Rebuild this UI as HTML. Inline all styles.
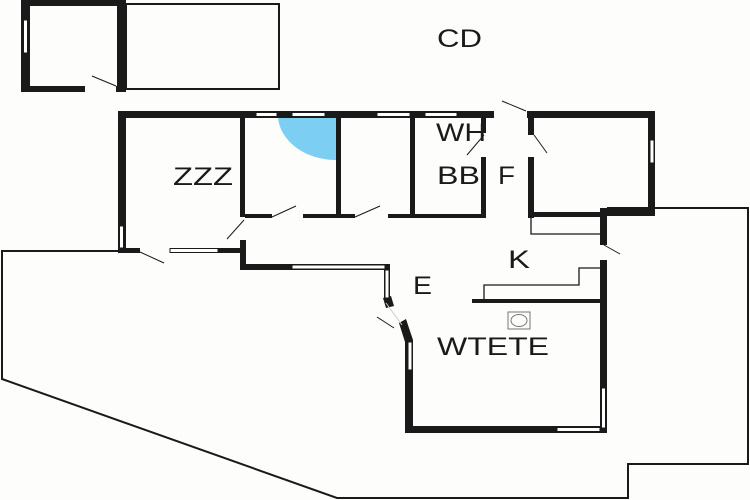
<!DOCTYPE html>
<html><head><style>html,body{margin:0;padding:0;background:#fdfdfc;}svg{display:block}</style></head>
<body>
<svg width="750" height="500" viewBox="0 0 750 500" xmlns="http://www.w3.org/2000/svg">
<rect width="750" height="500" fill="#fdfdfc"/>
<g fill="none" stroke="#1a1a1a" stroke-width="2">
<polyline points="118,251 2,251 2,379 337,498 628,498 628,464 748,464 748,208 607,208"/>
<rect x="126" y="4" width="153" height="85"/>
<polyline points="484,300 484,285 579,285 579,268 600,268" stroke-width="1.3"/>
<polyline points="531,217 531,234 600,234" stroke-width="1.3"/>
</g>
<g fill="#1a1a1a">
<rect x="21" y="0" width="105" height="6"/>
<rect x="21" y="0" width="9" height="92"/>
<rect x="117" y="0" width="9" height="92"/>
<rect x="21" y="86" width="64" height="6"/>
<rect x="116" y="86" width="10" height="6"/>
<rect x="118" y="111" width="376" height="7"/>
<rect x="527" y="111" width="128" height="7"/>
<rect x="118" y="111" width="8" height="142"/>
<rect x="240" y="118" width="5" height="99"/>
<rect x="336" y="118" width="5" height="99"/>
<rect x="410" y="118" width="5" height="99"/>
<rect x="481" y="111" width="5" height="22"/>
<rect x="481" y="157" width="5" height="61"/>
<rect x="245" y="214" width="27" height="4"/>
<rect x="303" y="214" width="38" height="4"/>
<rect x="341" y="214" width="14" height="4"/>
<rect x="388" y="214" width="98" height="4"/>
<rect x="528" y="111" width="6" height="24"/>
<rect x="528" y="157" width="6" height="61"/>
<rect x="648" y="111" width="7" height="100"/>
<rect x="600" y="208" width="55" height="8"/>
<rect x="528" y="212" width="79" height="5"/>
<rect x="600" y="208" width="7" height="37"/>
<rect x="600" y="260" width="7" height="173"/>
<rect x="118" y="248" width="22" height="5"/>
<rect x="218" y="248" width="27" height="5"/>
<rect x="240" y="240" width="6" height="30"/>
<rect x="240" y="264" width="150" height="6"/>
<rect x="384" y="264" width="6" height="36"/>
<polygon points="383,298 391,296 394,306 386,308"/>
<polygon points="399,323 406,319 413,340 405,342"/>
<rect x="405" y="340" width="8" height="93"/>
<rect x="405" y="426" width="202" height="7"/>
<rect x="472" y="299" width="130" height="4"/>
</g>
<g fill="#fff" stroke="#1a1a1a" stroke-width="1">
<rect x="23.5" y="20" width="4" height="33"/>
<rect x="256" y="112.5" width="21" height="4"/>
<rect x="292" y="112.5" width="33" height="4"/>
<rect x="377" y="112.5" width="33" height="4"/>
<rect x="425" y="112.5" width="32" height="4"/>
<rect x="650" y="140" width="4" height="23"/>
<rect x="119.5" y="226" width="4" height="22"/>
<rect x="170" y="248.5" width="48" height="4"/>
<rect x="292" y="265" width="93" height="4"/>
<rect x="385" y="270" width="4" height="28"/>
<rect x="408" y="342" width="4" height="28"/>
<rect x="557" y="427.5" width="43" height="4"/>
<rect x="601.5" y="388" width="4" height="40"/>
</g>
<g stroke="#1a1a1a" stroke-width="1" fill="none">
<line x1="116" y1="86" x2="92" y2="76"/>
<line x1="272" y1="217" x2="296" y2="206"/>
<line x1="355" y1="217" x2="380" y2="206"/>
<line x1="484" y1="135" x2="467" y2="155"/>
<line x1="526" y1="111" x2="502" y2="101"/>
<line x1="534" y1="135" x2="547" y2="153"/>
<line x1="604" y1="245" x2="620" y2="254"/>
<line x1="244" y1="220" x2="227" y2="239"/>
<line x1="140" y1="252" x2="164" y2="263"/>
<line x1="394" y1="328" x2="377" y2="317"/>
<line x1="386" y1="303" x2="402" y2="325" stroke="#ccc"/>
<rect x="508" y="312" width="22" height="17" stroke="#777"/>
<ellipse cx="519" cy="320.5" rx="8" ry="6" stroke="#777"/>
</g>
<path d="M336,118 L278,118 A58,46 0 0 0 336,160 Z" fill="#7ccef3"/>
<g font-family="Liberation Sans, sans-serif" font-size="25" fill="#1a1a1a">
<text x="437" y="47" textLength="45" lengthAdjust="spacingAndGlyphs">CD</text>
<text x="173" y="185" textLength="60" lengthAdjust="spacingAndGlyphs">ZZZ</text>
<text x="436" y="141" textLength="50" lengthAdjust="spacingAndGlyphs">WH</text>
<text x="437" y="184" textLength="43" lengthAdjust="spacingAndGlyphs">BB</text>
<text x="498" y="184" textLength="17" lengthAdjust="spacingAndGlyphs">F</text>
<text x="508" y="268" textLength="22" lengthAdjust="spacingAndGlyphs">K</text>
<text x="413" y="294" textLength="19" lengthAdjust="spacingAndGlyphs">E</text>
<text x="437" y="355" textLength="112" lengthAdjust="spacingAndGlyphs">WTETE</text>
</g>
</svg>
</body></html>
